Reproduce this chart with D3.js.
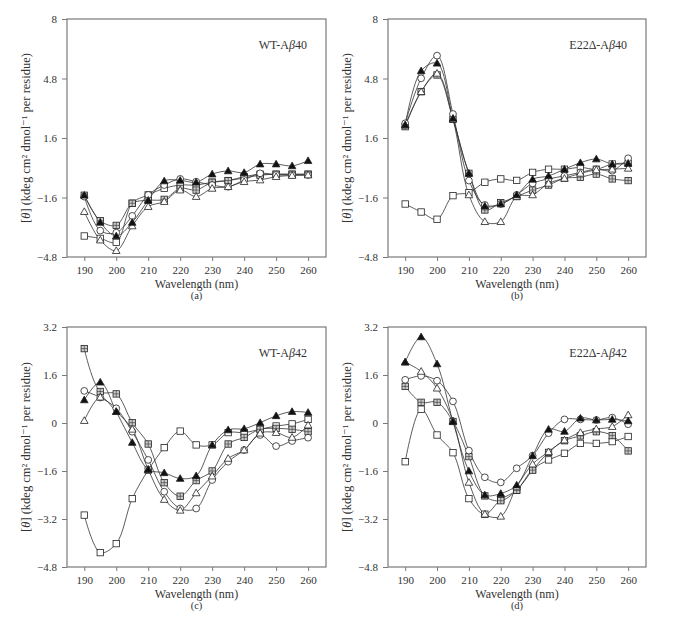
<!DOCTYPE html>
<html><head><meta charset="utf-8">
<script src="https://cdn.jsdelivr.net/npm/d3@7/dist/d3.min.js"></script>
<style>
body{margin:0;background:#fff}
text{font-family:"Liberation Serif","DejaVu Serif",serif;fill:#333}
</style></head>
<body><svg id="chart" width="681" height="629"></svg>
<script>
// ---- data ----
const wavelengths = [190,195,200,205,210,215,220,225,230,235,240,245,250,255,260];
const xTicks = [190,200,210,220,230,240,250,260];
const yTicksTop = [8,4.8,1.6,-1.6,-4.8];
const yTicksBottom = [3.2,1.6,0,-1.6,-3.2,-4.8];
const panelTitles = ["WT-A|β|40","E22Δ-A|β|40","WT-A|β|42","E22Δ-A|β|42"];
const panelLetters = ["(a)","(b)","(c)","(d)"];

// (a) WT-Aβ40
const a_openSquare   = [-3.67,-3.80,-4.01,-1.91,-1.46,-1.11,-0.93,-0.93,-0.78,-0.69,-0.48,-0.35,-0.35,-0.35,-0.35];
const a_crossSquare  = [-1.48,-2.85,-3.10,-1.91,-1.75,-1.70,-1.11,-1.20,-0.78,-0.69,-0.55,-0.40,-0.35,-0.35,-0.35];
const a_openCircle   = [-1.55,-3.38,-3.49,-2.59,-1.46,-0.93,-0.60,-0.75,-0.93,-1.02,-0.66,-0.30,-0.39,-0.39,-0.39];
const a_openTriangle = [-2.36,-3.89,-4.46,-3.13,-2.09,-1.82,-1.20,-1.55,-1.11,-1.02,-0.75,-0.66,-0.48,-0.42,-0.39];
const a_fillTriangle = [-1.48,-2.94,-3.67,-2.94,-1.75,-0.71,-0.68,-0.78,-0.34,-0.17,-0.26,0.20,0.20,0.10,0.38];
// (b) E22Δ-Aβ40
const b_openSquare   = [-1.95,-2.38,-2.77,-1.50,-1.34,-0.78,-0.60,-0.68,-0.25,-0.08,-0.08,0.02,-0.08,0.20,0.24];
const b_crossSquare  = [2.21,4.09,4.99,2.61,-0.30,-2.27,-1.88,-1.55,-1.20,-0.93,-0.57,-0.51,-0.34,-0.60,-0.69];
const b_openCircle   = [2.39,4.81,6.03,2.89,-0.69,-2.00,-1.95,-1.46,-0.84,-0.60,-0.44,-0.25,-0.08,-0.16,0.51];
const b_openTriangle = [2.30,4.09,5.08,2.61,-1.46,-2.90,-2.90,-1.55,-1.46,-0.84,-0.57,-0.30,-0.12,-0.08,-0.03];
const b_fillTriangle = [2.30,5.21,5.62,2.66,-0.30,-2.06,-1.95,-1.46,-0.62,-0.44,-0.08,0.27,0.47,0.20,0.24];
// (c) WT-Aβ42
const c_openSquare   = [-3.07,-4.32,-4.02,-2.52,-1.57,-0.82,-0.27,-0.73,-0.73,-0.32,-0.32,-0.21,-0.10,-0.03,0.12];
const c_crossSquare  = [2.48,1.05,0.97,0.01,-0.70,-1.99,-2.44,-1.92,-1.60,-0.70,-0.48,-0.21,-0.18,-0.21,-0.29];
const c_openCircle   = [1.07,0.85,0.49,-0.29,-1.23,-2.29,-2.85,-2.85,-1.90,-1.29,-0.90,-0.40,-0.77,-0.60,-0.49];
const c_openTriangle = [0.08,0.86,0.38,-0.21,-1.55,-2.55,-2.91,-2.33,-1.77,-1.18,-0.90,-0.34,-0.32,-0.48,-0.07];
const c_fillTriangle = [0.77,1.36,0.38,-0.65,-1.55,-1.66,-1.85,-1.76,-0.73,-0.23,-0.19,0.01,0.24,0.38,0.35];
// (d) E22Δ-Aβ42
const d_openSquare   = [-1.29,0.46,-0.40,-0.99,-2.52,-3.04,-2.55,-2.24,-1.55,-1.23,-1.01,-0.68,-0.68,-0.62,-0.45];
const d_crossSquare  = [1.22,0.69,0.69,0.05,-1.12,-2.43,-2.59,-2.24,-1.57,-0.98,-0.59,-0.43,-0.29,-0.42,-0.93];
const d_openCircle   = [1.44,1.57,1.41,0.72,-0.92,-1.81,-1.98,-1.51,-1.09,-0.34,0.12,0.12,0.10,0.18,-0.04];
const d_openTriangle = [2.03,1.72,1.16,0.07,-1.98,-3.04,-3.11,-2.13,-1.37,-0.96,-0.57,-0.32,-0.20,-0.12,0.27];
const d_fillTriangle = [2.03,2.87,1.97,0.05,-1.60,-2.40,-2.35,-2.07,-1.09,-0.21,-0.28,0.16,0.10,0.12,0.07];

const markerKinds = ["openSquare","crossSquare","openCircle","openTriangle","fillTriangle"];

// ---- layout ----
const svg = d3.select("#chart");
const boxes = [
  {l:67,r:326,t:19,b:257},
  {l:388,r:646,t:19,b:257},
  {l:67,r:326,t:327,b:567},
  {l:388,r:646,t:327,b:567}
];
const panelData = [
  [a_openSquare,a_crossSquare,a_openCircle,a_openTriangle,a_fillTriangle],
  [b_openSquare,b_crossSquare,b_openCircle,b_openTriangle,b_fillTriangle],
  [c_openSquare,c_crossSquare,c_openCircle,c_openTriangle,c_fillTriangle],
  [d_openSquare,d_crossSquare,d_openCircle,d_openTriangle,d_fillTriangle]
];
const axisColor = "#7a7a7a";
const fmt = v => (v<0?"\u2212":"") + Math.abs(v);

function drawMarker(g, kind, x, y){
  const s = 3.2;
  if(kind==="openSquare"){
    g.append("rect").attr("x",x-s).attr("y",y-s).attr("width",2*s).attr("height",2*s)
      .attr("fill","#fff").attr("stroke","#222").attr("stroke-width",0.8);
  } else if(kind==="crossSquare"){
    g.append("rect").attr("x",x-s).attr("y",y-s).attr("width",2*s).attr("height",2*s)
      .attr("fill","#ccc").attr("stroke","#222").attr("stroke-width",0.8);
    g.append("path").attr("d",`M${x-s},${y}H${x+s}M${x},${y-s}V${y+s}`)
      .attr("stroke","#444").attr("stroke-width",0.7);
  } else if(kind==="openCircle"){
    g.append("circle").attr("cx",x).attr("cy",y).attr("r",3.4)
      .attr("fill","#fff").attr("stroke","#222").attr("stroke-width",0.8);
  } else {
    const h = 3.8;
    g.append("path").attr("d",`M${x},${y-h}L${x+h},${y+h*0.75}L${x-h},${y+h*0.75}Z`)
      .attr("fill", kind==="fillTriangle" ? "#111" : "#fff")
      .attr("stroke","#222").attr("stroke-width",0.8);
  }
}

boxes.forEach((bx,i)=>{
  const g = svg.append("g");
  const top = i<2;
  const x = d3.scaleLinear().domain([184.6,265.6]).range([bx.l,bx.r]);
  const y = d3.scaleLinear().domain(top?[-4.8,8]:[-4.8,3.2]).range([bx.b,bx.t]);

  g.append("rect").attr("x",bx.l).attr("y",bx.t).attr("width",bx.r-bx.l).attr("height",bx.b-bx.t)
    .attr("fill","none").attr("stroke",axisColor).attr("stroke-width",1.2);

  const xa = g.append("g").attr("transform",`translate(0,${bx.b})`)
    .call(d3.axisBottom(x).tickValues(xTicks).tickSize(4).tickPadding(5).tickFormat(d3.format("d")));
  const ya = g.append("g").attr("transform",`translate(${bx.l},0)`)
    .call(d3.axisLeft(y).tickValues(top?yTicksTop:yTicksBottom).tickSize(5).tickPadding(5).tickFormat(fmt));
  [xa,ya].forEach(a=>{
    a.select(".domain").remove();
    a.selectAll("line").attr("stroke",axisColor).attr("stroke-width",1);
    a.selectAll("text").attr("font-size",11).attr("fill","#333")
      .style("font-family",'"Liberation Serif",serif');
  });

  const line = d3.line().x((d,j)=>x(wavelengths[j])).y(d=>y(d)).curve(d3.curveCatmullRom.alpha(0.5));
  panelData[i].forEach(vals=>{
    g.append("path").attr("d",line(vals)).attr("fill","none").attr("stroke","#333").attr("stroke-width",0.8);
  });
  panelData[i].forEach((vals,k)=>{
    vals.forEach((v,j)=>drawMarker(g, markerKinds[k], x(wavelengths[j]), y(v)));
  });

  const parts = panelTitles[i].split("|");
  const tt = g.append("text").attr("x",bx.r-19).attr("y",bx.t+30).attr("text-anchor","end").attr("font-size",12);
  tt.append("tspan").text(parts[0]);
  tt.append("tspan").attr("font-style","italic").text(parts[1]);
  tt.append("tspan").text(parts[2]);

  const cx = (bx.l+bx.r)/2;
  g.append("text").attr("x",cx).attr("y",bx.b+31).attr("text-anchor","middle").attr("font-size",12)
    .text("Wavelength (nm)");
  g.append("text").attr("x",cx).attr("y",bx.b+42).attr("text-anchor","middle").attr("font-size",10.5)
    .text(panelLetters[i]);

  const cy = (bx.t+bx.b)/2;
  const yt = g.append("text").attr("transform",`translate(${bx.l-37},${cy}) rotate(-90)`)
    .attr("text-anchor","middle").attr("font-size",12.5);
  yt.append("tspan").text("[");
  yt.append("tspan").attr("font-style","italic").text("θ");
  yt.append("tspan").text("] (kdeg cm² dmol⁻¹ per residue)");
});
</script>
</body></html>
